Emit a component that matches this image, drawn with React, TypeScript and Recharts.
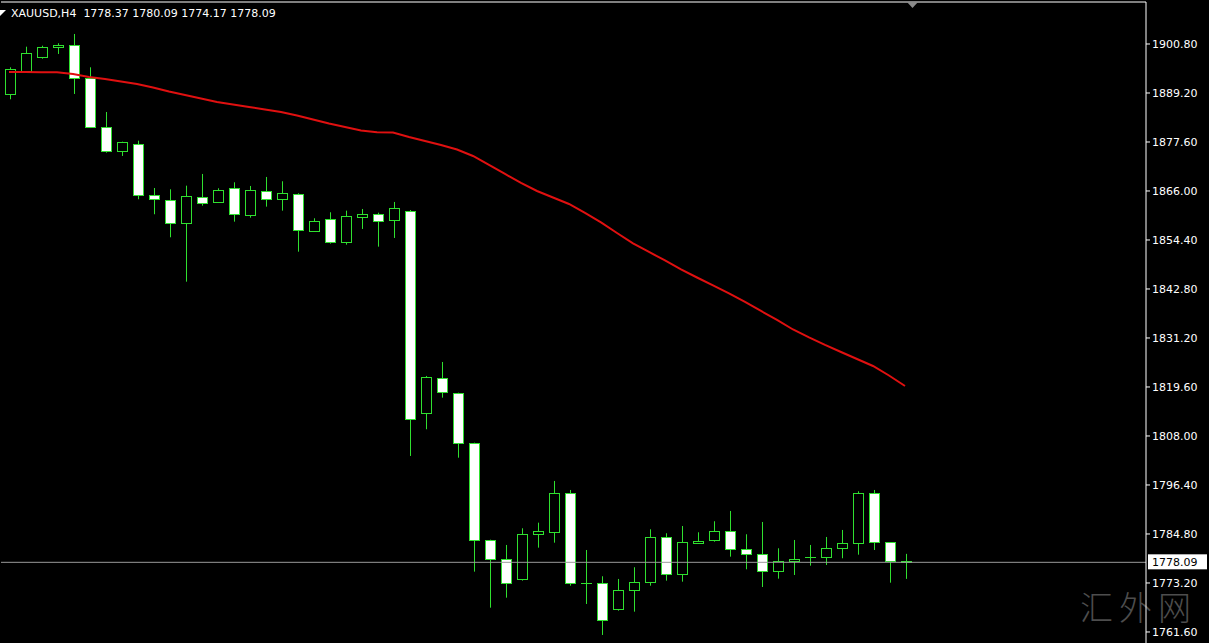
import { ComposedChart, Bar, Line, XAxis, YAxis, ReferenceLine } from 'recharts';

// XAUUSD H4 candles
const opens = [1888.89, 1894.48, 1897.8, 1900.02, 1900.5, 1892.68, 1881.08, 1875.4, 1877.06, 1864.98, 1863.8, 1858.36, 1864.51, 1863.47, 1866.64, 1860.39, 1866.07, 1864.04, 1865.22, 1856.6, 1859.3, 1853.86, 1859.92, 1860.49, 1859.21, 1861.2, 1813.38, 1821.66, 1818.11, 1806.27, 1783.31, 1778.81, 1774.15, 1784.73, 1785.35, 1794.44, 1773.2, 1773.13, 1767.12, 1771.47, 1773.37, 1784.02, 1775.26, 1782.74, 1783.45, 1785.44, 1781.18, 1779.95, 1775.97, 1778.34, 1779.3, 1779.28, 1781.56, 1782.6, 1794.44, 1782.84, 1778.37];
const highs = [1895.28, 1900.16, 1900.4, 1900.97, 1903.17, 1895.28, 1884.7, 1877.67, 1877.91, 1866.71, 1866.4, 1867.26, 1870.03, 1866.64, 1868.06, 1867.19, 1869.32, 1868.3, 1865.46, 1859.54, 1860.96, 1861.34, 1861.74, 1860.86, 1863.4, 1861.5, 1822.21, 1825.52, 1818.25, 1806.42, 1783.45, 1782.2, 1786.15, 1787.48, 1797.35, 1795.22, 1781.01, 1774.79, 1774.15, 1776.92, 1785.91, 1784.97, 1786.69, 1785.2, 1787.81, 1790.25, 1784.73, 1787.64, 1781.41, 1783.38, 1782.2, 1784.09, 1785.75, 1794.91, 1795.22, 1782.9, 1780.09];
const lows = [1887.71, 1894.17, 1897.32, 1898.44, 1888.97, 1880.9, 1875.07, 1874.29, 1864.04, 1860.49, 1855.04, 1844.53, 1862.52, 1863.23, 1858.74, 1859.68, 1862.29, 1861.34, 1851.63, 1856.3, 1853.53, 1853.29, 1857.01, 1852.82, 1854.88, 1803.27, 1809.59, 1817.07, 1802.86, 1775.88, 1767.35, 1769.72, 1773.75, 1781.56, 1782.74, 1772.56, 1768.23, 1760.89, 1766.64, 1766.41, 1772.56, 1773.75, 1773.51, 1782.6, 1782.98, 1779.43, 1776.44, 1772.25, 1774.22, 1775.09, 1777.3, 1777.46, 1779.05, 1779.9, 1781.01, 1773.27, 1774.17];
const closes = [1894.81, 1898.6, 1900.02, 1900.5, 1892.68, 1881.08, 1875.4, 1877.53, 1864.98, 1864.11, 1858.36, 1864.82, 1863.23, 1866.17, 1860.49, 1866.17, 1864.04, 1865.46, 1856.7, 1858.83, 1853.86, 1860.01, 1860.56, 1858.97, 1861.91, 1811.95, 1821.9, 1818.35, 1806.27, 1783.31, 1778.81, 1773.13, 1784.8, 1785.44, 1794.44, 1773.13, 1773.1, 1764.37, 1771.47, 1773.37, 1784.02, 1775.26, 1782.84, 1783.14, 1785.44, 1781.18, 1779.99, 1775.97, 1778.34, 1778.88, 1779.28, 1781.41, 1782.6, 1794.44, 1782.84, 1778.4, 1778.09];
// red moving average
const maValues = [1894.17, 1894.17, 1894.1, 1894.1, 1893.7, 1892.99, 1892.52, 1891.93, 1891.33, 1890.5, 1889.56, 1888.73, 1887.9, 1887.07, 1886.48, 1885.89, 1885.3, 1884.7, 1883.88, 1882.93, 1881.98, 1881.15, 1880.33, 1879.9, 1879.85, 1878.79, 1877.84, 1876.89, 1875.83, 1874.29, 1872.16, 1870.03, 1867.9, 1866.0, 1864.46, 1862.93, 1860.79, 1858.55, 1856.06, 1853.62, 1851.56, 1849.55, 1847.42, 1845.52, 1843.63, 1841.74, 1839.72, 1837.59, 1835.46, 1833.21, 1831.32, 1829.55, 1827.89, 1826.23, 1824.57, 1822.32, 1819.84];

const priceTicks = [1900.8, 1889.2, 1877.6, 1866.0, 1854.4, 1842.8, 1831.2, 1819.6, 1808.0, 1796.4, 1784.8, 1773.2, 1761.6];
const symbolName = 'XAUUSD,H4';
const lastPrice = 1778.09;

const Y_MIN = 1758.99;
const Y_MAX = 1910.74;
const GREEN = '#2fe02f';
const FONT = '"DejaVu Sans", Verdana, sans-serif';

const chartData = opens.map((open, i) => ({
  i,
  open,
  high: highs[i],
  low: lows[i],
  close: closes[i],
  range: [lows[i], highs[i]],
  ma: maValues[i],
}));

const Candle = (props: any) => {
  const { x, y, width, height, payload } = props;
  if (x == null || y == null) return null;
  const top = Math.min(y, y + height);
  const h = Math.abs(height);
  const { open, close, high, low } = payload;
  const toPx = (v: number) => top + ((high - v) / (high - low)) * h;
  const cx = Math.round(x + width / 2) + 0.5;
  const yO = toPx(open);
  const yC = toPx(close);
  const bodyTop = Math.round(Math.min(yO, yC)) + 0.5;
  const bodyBottom = Math.round(Math.max(yO, yC)) + 0.5;
  const bull = close >= open;

  return (
    <g>
      <line x1={cx} x2={cx} y1={top} y2={top + h} stroke={GREEN} strokeWidth={1} />
      {bodyBottom - bodyTop < 1 ? (
        <line x1={cx - 5.5} x2={cx + 5.5} y1={bodyTop} y2={bodyTop} stroke={GREEN} strokeWidth={1} />
      ) : (
        <rect
          x={cx - 5}
          y={bodyTop}
          width={10}
          height={bodyBottom - bodyTop}
          fill={bull ? '#000' : '#fff'}
          stroke={GREEN}
          strokeWidth={1}
        />
      )}
    </g>
  );
};

const PriceTag = (props: any) => {
  const { viewBox } = props;
  if (!viewBox) return null;
  const left = viewBox.x + viewBox.width + 2;
  return (
    <g>
      <rect x={left} y={viewBox.y - 8} width={59} height={15} fill='#fff' />
      <text x={left + 4} y={viewBox.y} dy='0.355em' fontSize={11} fontFamily={FONT} fill='#000'>
        {lastPrice.toFixed(2)}
      </text>
    </g>
  );
};

const last = chartData[chartData.length - 1];
const header = `${symbolName}  ${last.open.toFixed(2)} ${last.high.toFixed(2)} ${last.low.toFixed(2)} ${last.close.toFixed(2)}`;

export default function App() {
  return (
    <div style={{ position: 'absolute', left: 0, top: 0, width: 1209, height: 643, background: '#000', overflow: 'hidden' }}>
      <div style={{ position: 'absolute', left: 1080, top: 590, height: 33, color: '#4d4d4d', fontSize: 33, fontFamily: '"Noto Sans CJK SC"', fontWeight: 300, letterSpacing: 6, lineHeight: '33px' }}>
        汇外网
      </div>
      <ComposedChart
        width={1209}
        height={643}
        data={chartData}
        margin={{ top: 2, right: 0, bottom: 0, left: 1 }}
        barCategoryGap={0}
        style={{ position: 'absolute', left: 0, top: 0 }}
      >
        <XAxis dataKey='i' hide padding={{ left: 0, right: 233 }} />
        <YAxis
          orientation='right'
          type='number'
          domain={[Y_MIN, Y_MAX]}
          allowDataOverflow
          ticks={priceTicks}
          interval={0}
          width={63}
          tickFormatter={(v: number) => v.toFixed(2)}
          tick={{ fill: '#fff', fontSize: 11, fontFamily: FONT }}
          axisLine={{ stroke: '#fff' }}
          tickLine={{ stroke: '#fff' }}
          tickSize={4}
          tickMargin={2}
        />
        <ReferenceLine y={Y_MAX} stroke='#fff' strokeWidth={1} />
        <ReferenceLine y={lastPrice} stroke='#9a9a9a' strokeWidth={1} label={<PriceTag />} />
        <Bar dataKey='range' shape={<Candle />} isAnimationActive={false} barSize={11} />
        <Line
          dataKey='ma'
          type='linear'
          stroke='#e01010'
          strokeWidth={2}
          dot={false}
          activeDot={false}
          isAnimationActive={false}
        />
      </ComposedChart>

      <div style={{ position: 'absolute', left: 11, top: 7, color: '#fff', fontSize: 11, fontFamily: FONT, whiteSpace: 'pre' }}>
        {header}
      </div>
      <svg style={{ position: 'absolute', left: 0, top: 0 }} width={1209} height={20}>
        <polygon points='0,10 6,10 0,16' fill='#fff' />
        <polygon points='907,2 918,2 912.5,8' fill='#8a8a8a' />
      </svg>
    </div>
  );
}
